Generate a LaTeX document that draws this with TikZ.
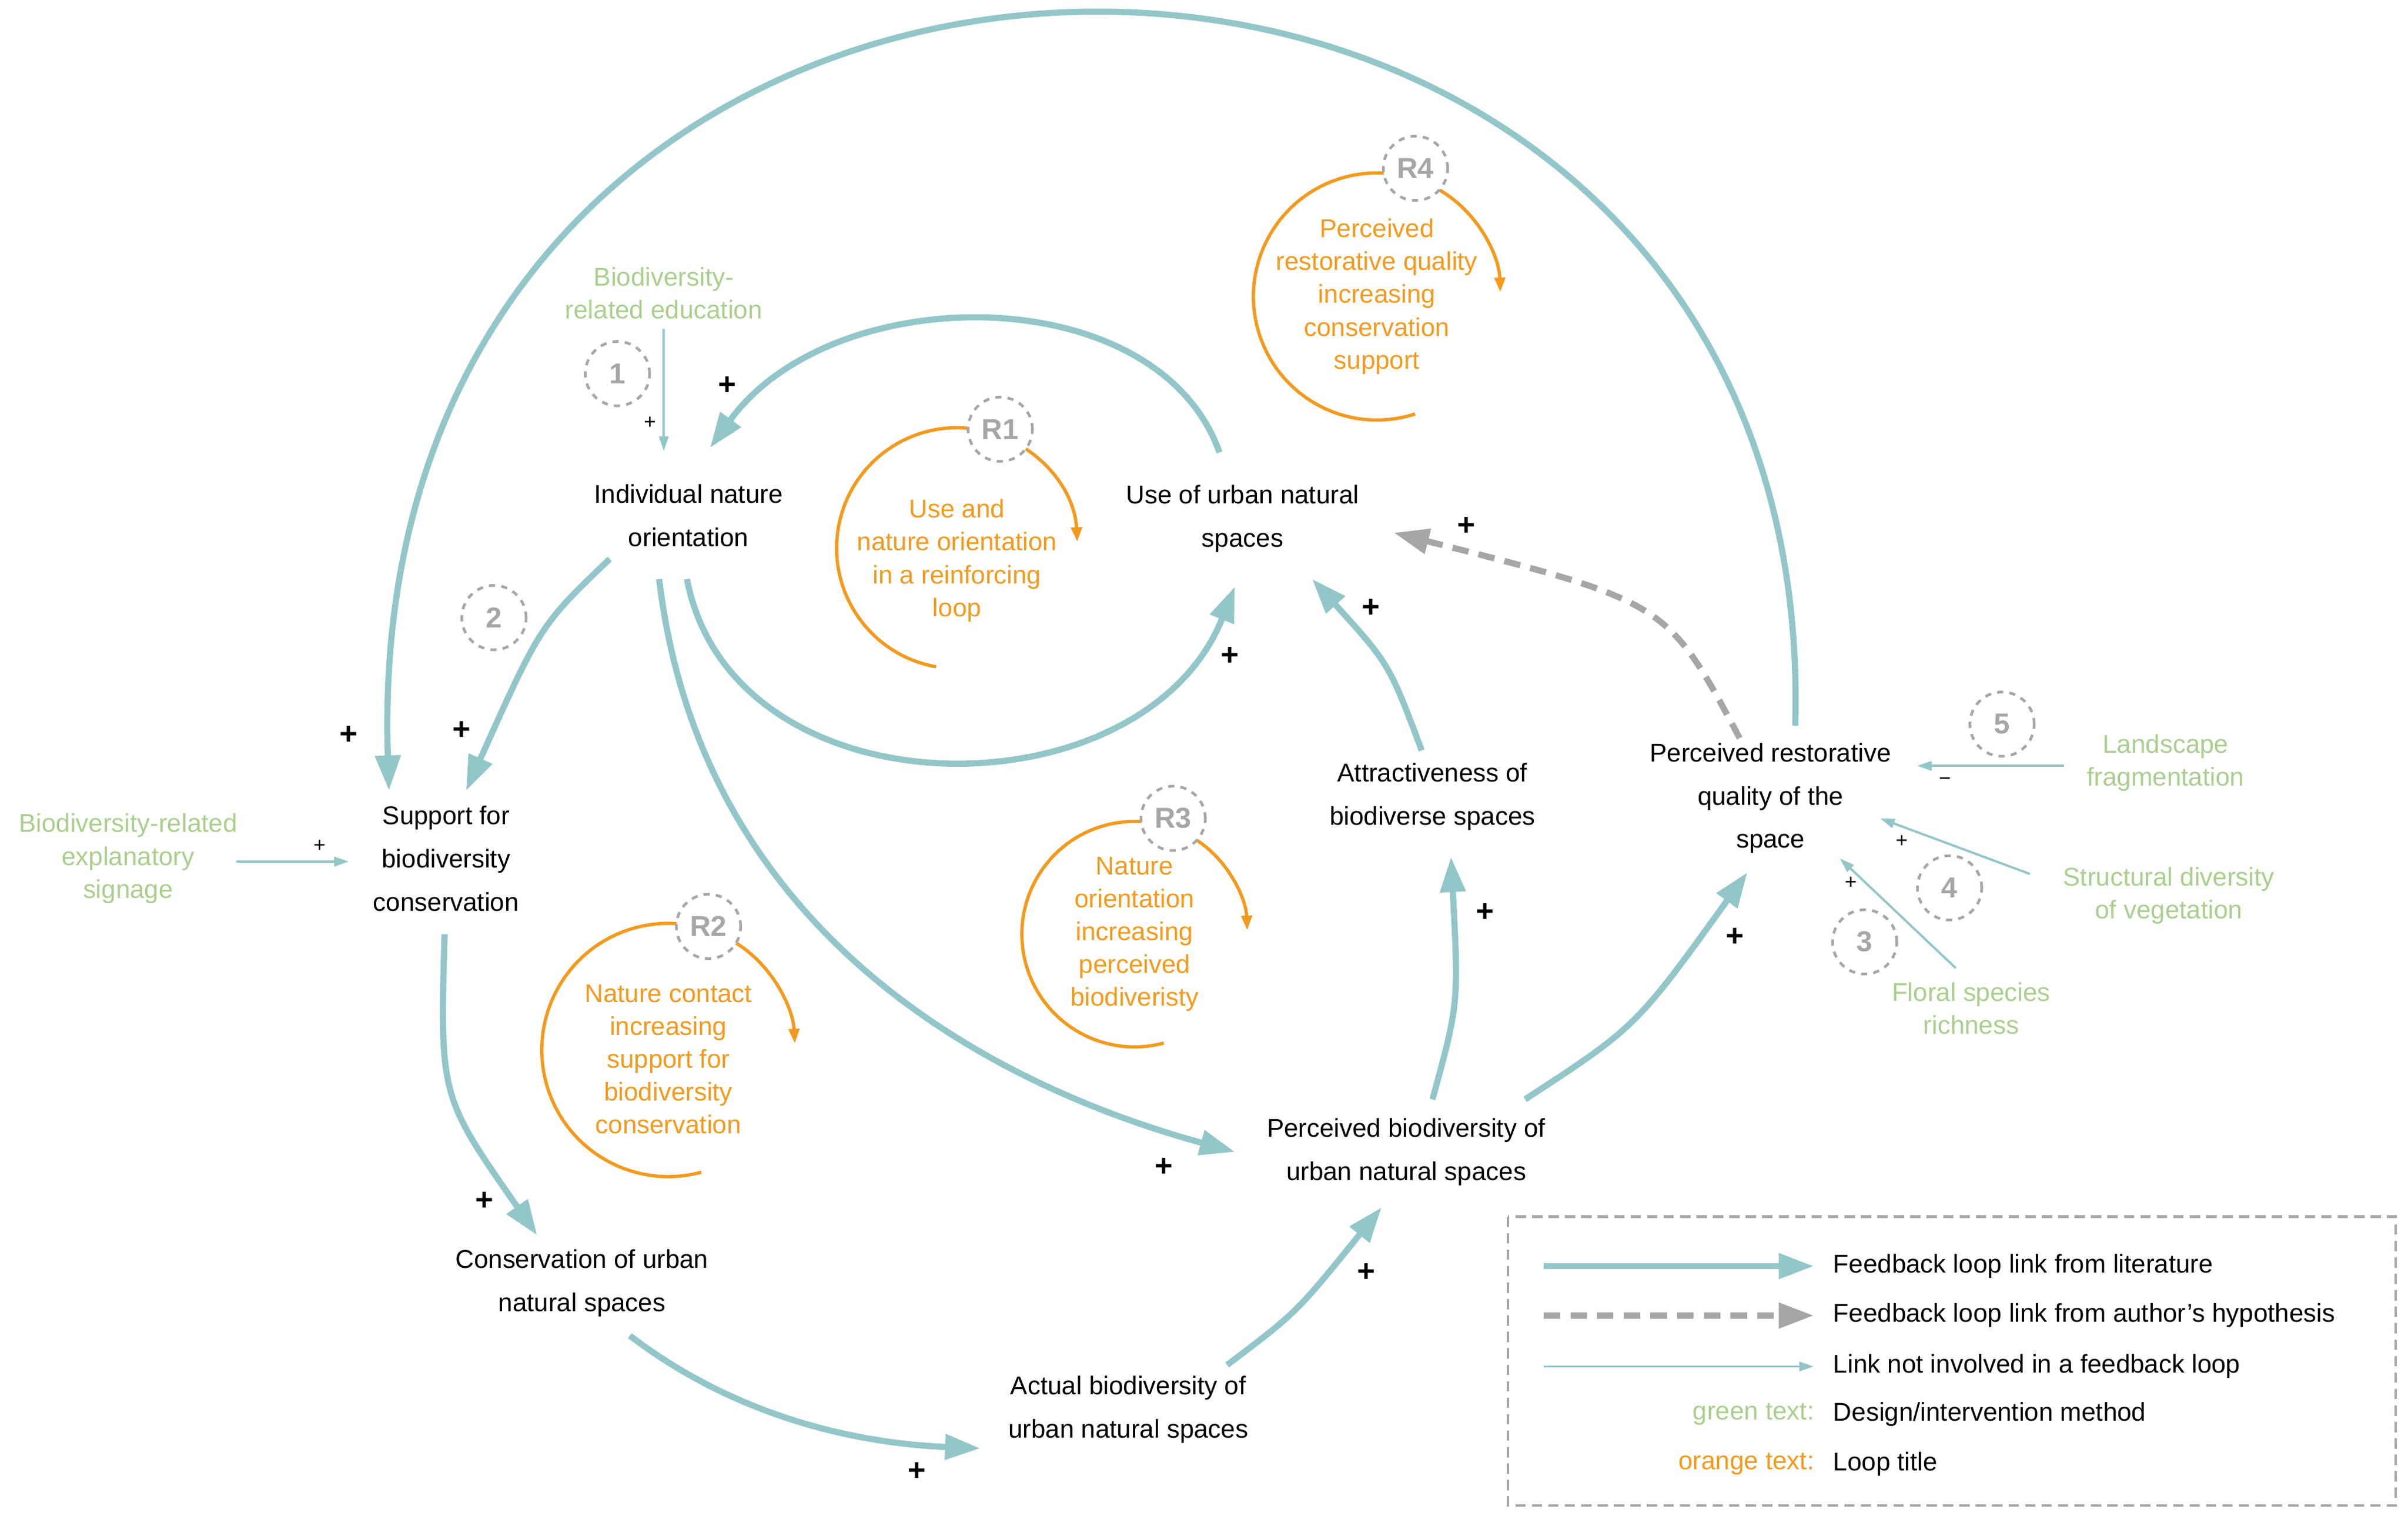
\documentclass[tikz,border=0pt]{standalone}
\usepackage{fontspec}
\setmainfont{Liberation Sans}
\usetikzlibrary{arrows.meta}
\definecolor{teal}{HTML}{93C6C8}
\definecolor{org}{HTML}{F39A1E}
\definecolor{grn}{HTML}{A9CF8E}
\definecolor{gry}{HTML}{A6A6A6}
\tikzset{
 blk/.style={align=center,font=\fontsize{12.5}{21}\selectfont},
 gt/.style={align=center,text=grn,font=\fontsize{12.5}{16}\selectfont},
 ot/.style={align=center,text=org,font=\fontsize{12.5}{16}\selectfont},
 lt/.style={anchor=west,font=\fontsize{12.5}{16}\selectfont},
 num/.style={circle,draw=gry,dashed,line width=1.3pt,minimum size=1.1cm,text=gry,font=\bfseries\fontsize{14}{16}\selectfont},
 main/.style={teal,line width=3pt,-{Triangle[length=0.6cm,width=0.42cm]}},
 hyp/.style={gry,line width=3pt,dash pattern=on 8pt off 5pt,-{Triangle[length=0.6cm,width=0.42cm]}},
 thin/.style={teal,line width=1.1pt,-{Triangle[length=0.25cm,width=0.16cm]}},
 loop/.style={org,line width=1.6pt,-{Triangle[length=0.25cm,width=0.18cm]}},
 pl/.style={font=\bfseries\fontsize{15}{16}\selectfont},
 sp/.style={font=\fontsize{10}{12}\selectfont},
}
\begin{document}
\begin{tikzpicture}[x=0.0264cm,y=-0.0264cm]
\useasboundingbox (0,0) rectangle (1560,988);
% nodes
\node[blk] (ind) at (446,334) {Individual nature\\orientation};
\node[blk] (use) at (805,336) {Use of urban natural\\spaces};
\node[blk] (sup) at (289,556) {Support for\\biodiversity\\conservation};
\node[blk] (con) at (377,831) {Conservation of urban\\natural spaces};
\node[blk] (act) at (731,913) {Actual biodiversity of\\urban natural spaces};
\node[blk] (per) at (911,746) {Perceived biodiversity of\\urban natural spaces};
\node[blk] (att) at (928,516) {Attractiveness of\\biodiverse spaces};
\node[blk] (res) at (1147,517) {Perceived restorative\\quality of the\\space};
\node[gt] (edu) at (430,190) {Biodiversity-\\related education};
\node[gt] (sig) at (83,556) {Biodiversity-related\\explanatory\\signage};
\node[gt] (lan) at (1403,494) {Landscape\\fragmentation};
\node[gt] (str) at (1405,580) {Structural diversity\\of vegetation};
\node[gt] (flo) at (1277,653) {Floral species\\richness};
\node[num] (n1) at (400,242) {1};
\node[num] (n2) at (320,400) {2};
\node[num] (n3) at (1208,610) {3};
\node[num] (n4) at (1263,575) {4};
\node[num] (n5) at (1297,469) {5};
% loops
\node[ot] (t1) at (620,363) {Use and\\nature orientation\\in a reinforcing\\loop};
\draw[loop] (620,355) ++(100:78) arc[start angle=100,end angle=357,radius=78];
\node[num,fill=white] (r1) at (648,278) {R1};
\node[ot] (t2) at (433,686) {Nature contact\\increasing\\support for\\biodiversity\\conservation};
\draw[loop] (433,680) ++(75:82) arc[start angle=75,end angle=357,radius=82];
\node[num,fill=white] (r2) at (459,600) {R2};
\node[ot] (t3) at (735,605) {Nature\\orientation\\increasing\\perceived\\biodiveristy};
\draw[loop] (735,605) ++(75:73) arc[start angle=75,end angle=358,radius=73];
\node[num,fill=white] (r3) at (760,530) {R3};
\node[ot] (t4) at (892,192) {Perceived\\restorative quality\\increasing\\conservation\\support};
\draw[loop] (892,192) ++(72:80) arc[start angle=72,end angle=358,radius=80];
\node[num,fill=white] (r4) at (917,109) {R4};
% coordinates
\coordinate (a1) at (1163,470); \coordinate (a2) at (252,512);
\coordinate (b1) at (790,293); \coordinate (b2) at (460,290);
\coordinate (c1) at (445,375); \coordinate (c2) at (800,380);
\coordinate (d1) at (395,362); \coordinate (d2) at (302,512);
\coordinate (e1) at (427,375); \coordinate (e2) at (800,746);
\coordinate (f1) at (288,605); \coordinate (f2) at (348,800);
\coordinate (g1) at (408,865); \coordinate (g2) at (635,938);
\coordinate (h1) at (795,884); \coordinate (h2) at (895,782);
\coordinate (i1) at (928,712); \coordinate (i2) at (940,555);
\coordinate (j1) at (988,712); \coordinate (j2) at (1132,565);
\coordinate (k1) at (921,486); \coordinate (k2) at (850,375);
\coordinate (l1) at (1127,478); \coordinate (l2) at (903,345);
\coordinate (m1) at (430,213); \coordinate (m2) at (430,292);
\coordinate (o1) at (153,558); \coordinate (o2) at (226,558);
\coordinate (p1) at (1337,496); \coordinate (p2) at (1242,496);
\coordinate (q1) at (1315,566); \coordinate (q2) at (1218,530);
\coordinate (s1) at (1267,627); \coordinate (s2) at (1192,556);
% connectors
\draw[main] (a1) .. controls (1180,-150) and (230,-150) .. (a2);
\draw[main] (b1) .. controls (750,180) and (540,180) .. (b2);
\draw[main] (c1) .. controls (475,530) and (740,530) .. (c2);
\draw[main] (d1) .. controls (350,405) .. (d2);
\draw[main] (e1) .. controls (455,610) and (650,705) .. (e2);
\draw[main] (f1) .. controls (285,710) .. (f2);
\draw[main] (g1) .. controls (480,920) and (560,935) .. (g2);
\draw[main] (h1) .. controls (840,850) .. (h2);
\draw[main] (i1) .. controls (945,650) .. (i2);
\draw[main] (j1) .. controls (1060,665) .. (j2);
\draw[main] (k1) .. controls (900,430) .. (k2);
\draw[hyp] (l1) .. controls (1080,390) .. (l2);
\draw[thin] (m1) -- (m2);
\draw[thin] (o1) -- (o2);
\draw[thin] (p1) -- (p2);
\draw[thin] (q1) -- (q2);
\draw[thin] (s1) -- (s2);
% signs
\node[pl] (s01) at (471,250) {+};
\node[pl] (s02) at (226,476) {+};
\node[pl] (s03) at (299,473) {+};
\node[pl] (s04) at (797,425) {+};
\node[pl] (s05) at (950,341) {+};
\node[pl] (s06) at (888,394) {+};
\node[pl] (s07) at (962,591) {+};
\node[pl] (s08) at (1124,607) {+};
\node[pl] (s09) at (754,756) {+};
\node[pl] (s10) at (314,778) {+};
\node[pl] (s11) at (594,953) {+};
\node[pl] (s12) at (885,824) {+};
\node[sp] (t01) at (421,274) {+};
\node[sp] (t02) at (207,548) {+};
\node[sp] (t03) at (1260,506) {\textminus};
\node[sp] (t04) at (1232,545) {+};
\node[sp] (t05) at (1199,572) {+};
% legend
\draw[gry,line width=1.3pt,dash pattern=on 5pt off 3pt] (977,788) rectangle (1552,975);
\coordinate (la1) at (1000,820); \coordinate (la2) at (1175,820);
\coordinate (lb1) at (1000,852); \coordinate (lb2) at (1175,852);
\coordinate (lc1) at (1000,885); \coordinate (lc2) at (1175,885);
\draw[main] (la1) -- (la2);
\draw[hyp] (lb1) -- (lb2);
\draw[thin] (lc1) -- (lc2);
\node[lt] (lt1) at (1183,820) {Feedback loop link from literature};
\node[lt] (lt2) at (1183,852) {Feedback loop link from author’s hypothesis};
\node[lt] (lt3) at (1183,885) {Link not involved in a feedback loop};
\node[lt] (lt4) at (1183,916) {Design/intervention method};
\node[lt] (lt5) at (1183,948) {Loop title};
\node[lt,anchor=east,text=grn] (lg) at (1180,916) {green text:};
\node[lt,anchor=east,text=org] (lo) at (1180,948) {orange text:};
\end{tikzpicture}
\end{document}
